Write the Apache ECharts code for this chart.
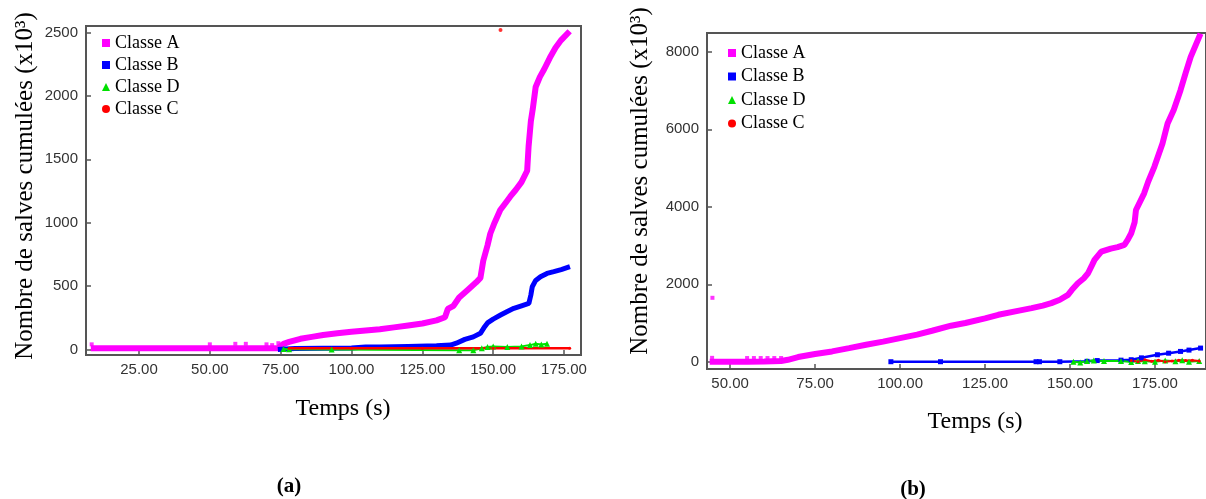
<!DOCTYPE html>
<html>
<head>
<meta charset="utf-8">
<script src="https://cdn.jsdelivr.net/npm/echarts@6/dist/echarts.min.js"></script>
<style>html,body{margin:0;padding:0;background:#fff}#c{width:1206px;height:499px}</style>
</head>
<body>
<div id="c"></div>
<script>
// ---------- Data: panel (a) ----------
const ticksX_a = [25, 50, 75, 100, 125, 150, 175];
const ticksY_a = [0, 500, 1000, 1500, 2000, 2500];
const classeA_a = [[8,10],[20,10],[40,10],[60,10],[74,10],[76,45],[78,60],[82,85],[86,100],[90,115],[95,128],[100,140],[105,150],[110,160],[115,175],[120,190],[125,205],[130,230],[133,255],[134,320],[136,345],[138,410],[141,470],[144,530],[145.5,565],[146.5,700],[148,820],[149,915],[150.5,1000],[152.5,1100],[154.5,1160],[156,1205],[158,1260],[160,1320],[162,1410],[162.5,1600],[163.3,1800],[164,1900],[165,2070],[166.5,2150],[168,2210],[170,2300],[172,2380],[174,2440],[177,2510]];
const classeA_a_pts = [[8.3,41],[50,41],[59,45],[62.7,45],[70,41],[72,35],[74.2,50]];
const classeB_a = [[74,0],[77,5],[80,8],[100,12],[105,20],[110,20],[120,25],[130,30],[135,35],[137,50],[140,80],[143,100],[145.5,128],[147,180],[148,210],[150,240],[152.6,272],[155,300],[157.3,325],[160,345],[162.6,364],[163.3,430],[163.8,495],[165,545],[166.7,574],[169,600],[171.4,614],[174,630],[177.1,653]];
const classeD_a = [[76,5],[78,2],[93,0],[138,-5],[143,-5],[146,10],[148,20],[150,25],[155,20],[160,25],[163,35],[165,45],[167,40],[169,45]];
const classeC_a = [[78,10],[100,10],[125,10],[150,10],[177,10]];
const classeC_a_pts = [[152.6,2520]];

// ---------- Data: panel (b) ----------
const ticksX_b = [50, 75, 100, 125, 150, 175];
const ticksY_b = [0, 2000, 4000, 6000, 8000];
const classeA_b = [[44,0],[50,0],[55,0],[60,5],[65,20],[67,50],[70,120],[75,200],[80,266],[85,350],[90,438],[95,520],[100,610],[105,700],[109.4,800],[115,930],[119.2,1000],[125,1120],[128.9,1211],[135,1320],[138.7,1383],[142,1450],[144.5,1512],[147,1600],[149.4,1727],[150.5,1850],[152.3,2027],[154,2150],[155.3,2285],[156.5,2500],[157.2,2629],[159.2,2843],[162,2920],[164,2960],[166,3015],[167,3150],[168,3317],[169,3600],[169.4,3918],[171.8,4348],[173,4650],[174.8,5033],[177.2,5636],[178.7,6152],[180.5,6500],[182.5,7010],[184,7450],[185.5,7869],[188.4,8472]];
const classeA_b_pts = [[44.8,1650],[44.7,100],[55,95],[57,95],[59,95],[61,95],[63,95],[65,95]];
const classeB_b = [[97.3,0],[111.9,0],[140,0],[141,0],[147,0],[155,10],[158,30],[165,40],[168,52],[171,100],[175.7,180],[179,220],[182.5,266],[185,300],[188.4,352]];
const classeD_b = [[151,0],[153,-20],[155,20],[157,30],[160,20],[165,20],[168,-10],[170,20],[172,10],[175,0],[178,30],[181,10],[183,40],[185,0],[188,20]];
const classeC_b = [[168,30],[170,0],[172,50],[174,10],[176,40],[178,0],[180,20],[182,40],[184,30],[186,40],[188,20]];

const legendNames = ['Classe A', 'Classe B', 'Classe D', 'Classe C'];
const legendIcons = ['rect', 'rect', 'triangle', 'circle'];

// ---------- Chart ----------
const MAG = '#ff00ff', BLU = '#0000ff', GRN = '#00e000', RED = '#ff0000';
const AX = '#555555';
const serif = '"Liberation Serif", "Times New Roman", serif';
const sans = '"Liberation Sans", Arial, sans-serif';

function xAxis(gi, min, max, ticks) {
  return {
    type: 'value', gridIndex: gi, min: min, max: max,
    axisLine: { show: true, onZero: false, lineStyle: { color: AX, width: 2 } },
    axisTick: { show: true, inside: true, length: 5, customValues: ticks, lineStyle: { color: AX, width: 1.5 } },
    axisLabel: { customValues: ticks, margin: 7, color: '#333', fontFamily: sans, fontSize: 15,
      formatter: v => v.toFixed(2) },
    splitLine: { show: false }
  };
}
function yAxis(gi, min, max, ticks) {
  return {
    type: 'value', gridIndex: gi, min: min, max: max,
    axisLine: { show: true, onZero: false, lineStyle: { color: AX, width: 2 } },
    axisTick: { show: true, inside: true, length: 5, customValues: ticks, lineStyle: { color: AX, width: 1.5 } },
    axisLabel: { customValues: ticks, margin: 8, color: '#333', fontFamily: sans, fontSize: 15,
      formatter: v => String(v) },
    splitLine: { show: false }
  };
}
function legend(left, top, gap) {
  return {
    orient: 'vertical', left: left, top: top, itemWidth: 8, itemHeight: 8, itemGap: gap,
    selectedMode: false, padding: 0,
    textStyle: { fontFamily: serif, fontSize: 18, lineHeight: 18, color: '#000' },
    data: legendNames.map((n, i) => ({ name: n, icon: legendIcons[i] }))
  };
}

const option = {
  animation: false,
  backgroundColor: '#fff',
  color: [MAG, BLU, GRN, RED],
  grid: [
    { left: 86, top: 26, width: 495, height: 329, show: true, borderColor: AX, borderWidth: 2, backgroundColor: 'transparent' },
    { left: 707, top: 33, width: 502, height: 336, show: true, borderColor: AX, borderWidth: 2, backgroundColor: 'transparent' }
  ],
  xAxis: [ xAxis(0, 6.3, 181, ticksX_a), xAxis(1, 43.2, 190, ticksX_b) ],
  yAxis: [ yAxis(0, -43, 2551, ticksY_a), yAxis(1, -188, 8487, ticksY_b) ],
  legend: [ legend(102, 34, 4), legend(728, 44, 5.5) ],
  series: [
    // panel (a)
    { name: 'Classe A', type: 'line', xAxisIndex: 0, yAxisIndex: 0, data: classeA_a, symbol: 'none', lineStyle: { color: MAG, width: 6 }, itemStyle: { color: MAG } },
    { name: 'Classe A', type: 'scatter', xAxisIndex: 0, yAxisIndex: 0, data: classeA_a_pts, symbol: 'rect', symbolSize: 4, itemStyle: { color: MAG } },
    { name: 'Classe B', type: 'line', xAxisIndex: 0, yAxisIndex: 0, data: classeB_a, symbol: 'none', lineStyle: { color: BLU, width: 5 }, itemStyle: { color: BLU } },
    { name: 'Classe D', type: 'line', xAxisIndex: 0, yAxisIndex: 0, data: classeD_a, symbol: 'triangle', symbolSize: 6, lineStyle: { color: GRN, width: 2 }, itemStyle: { color: GRN } },
    { name: 'Classe C', type: 'line', xAxisIndex: 0, yAxisIndex: 0, data: classeC_a, symbol: 'circle', symbolSize: 3, lineStyle: { color: RED, width: 2.5 }, itemStyle: { color: RED } },
    { name: 'Classe C', type: 'scatter', xAxisIndex: 0, yAxisIndex: 0, data: classeC_a_pts, symbol: 'circle', symbolSize: 4, itemStyle: { color: RED } },
    // panel (b)
    { name: 'Classe A', type: 'line', xAxisIndex: 1, yAxisIndex: 1, data: classeA_b, symbol: 'none', lineStyle: { color: MAG, width: 6 }, itemStyle: { color: MAG } },
    { name: 'Classe A', type: 'scatter', xAxisIndex: 1, yAxisIndex: 1, data: classeA_b_pts, symbol: 'rect', symbolSize: 4, itemStyle: { color: MAG } },
    { name: 'Classe B', type: 'line', xAxisIndex: 1, yAxisIndex: 1, data: classeB_b, symbol: 'rect', symbolSize: 5, lineStyle: { color: BLU, width: 2.5 }, itemStyle: { color: BLU } },
    { name: 'Classe D', type: 'line', xAxisIndex: 1, yAxisIndex: 1, data: classeD_b, symbol: 'triangle', symbolSize: 6, lineStyle: { color: GRN, width: 2 }, itemStyle: { color: GRN } },
    { name: 'Classe C', type: 'line', xAxisIndex: 1, yAxisIndex: 1, data: classeC_b, symbol: 'circle', symbolSize: 3, lineStyle: { color: RED, width: 2 }, itemStyle: { color: RED } }
  ],
  graphic: [
    { type: 'text', x: 25, y: 186, rotation: Math.PI / 2, style: { text: 'Nombre de salves cumulées (x10³)', fontFamily: serif, fontSize: 25, fill: '#000', align: 'center', verticalAlign: 'middle' } },
    { type: 'text', x: 640, y: 181, rotation: Math.PI / 2, style: { text: 'Nombre de salves cumulées (x10³)', fontFamily: serif, fontSize: 25, fill: '#000', align: 'center', verticalAlign: 'middle' } },
    { type: 'text', x: 343, y: 409, style: { text: 'Temps (s)', fontFamily: serif, fontSize: 24, fill: '#000', align: 'center', verticalAlign: 'middle' } },
    { type: 'text', x: 975, y: 422, style: { text: 'Temps (s)', fontFamily: serif, fontSize: 24, fill: '#000', align: 'center', verticalAlign: 'middle' } },
    { type: 'text', x: 289, y: 487, style: { text: '(a)', fontFamily: serif, fontSize: 21, fontWeight: 'bold', fill: '#000', align: 'center', verticalAlign: 'middle' } },
    { type: 'text', x: 913, y: 490, style: { text: '(b)', fontFamily: serif, fontSize: 21, fontWeight: 'bold', fill: '#000', align: 'center', verticalAlign: 'middle' } }
  ]
};
const chart = echarts.init(document.getElementById('c'), null, { renderer: 'canvas' });
chart.setOption(option);
</script>
</body>
</html>
